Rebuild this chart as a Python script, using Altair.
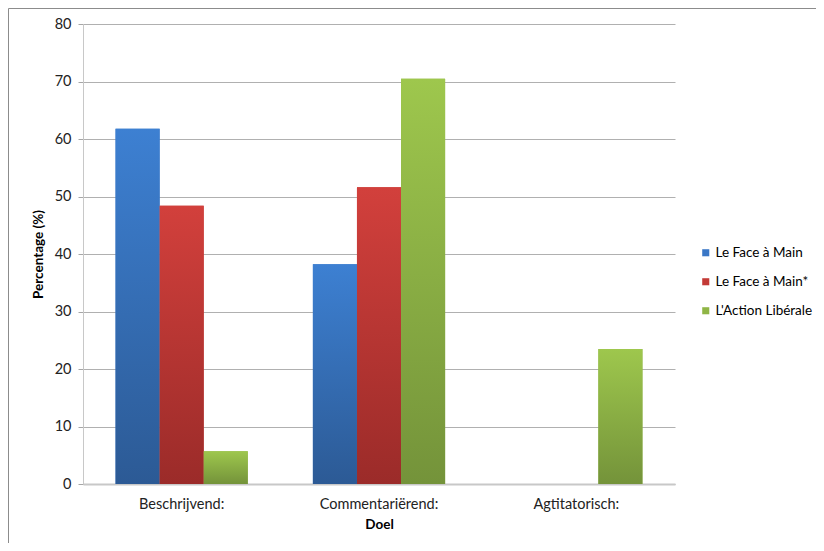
import altair as alt
import pandas as pd

categories = ["Beschrijvend:", "Commentariërend:", "Agtitatorisch:"]
series = ["Le Face à Main", "Le Face à Main*", "L'Action Libérale"]
face_a_main = [61.8, 38.2, 0.0]
face_a_main_star = [48.4, 51.6, 0.0]
action_liberale = [5.7, 70.5, 23.5]

solid = ["#3a77c6", "#c33a36", "#8fb546"]
tops = ["#3d80d2", "#d2403c", "#9ec74d"]
bottoms = ["#2c5a95", "#9b2b29", "#74933a"]

rows = []
for s, vals in zip(series, [face_a_main, face_a_main_star, action_liberale]):
    for c, v in zip(categories, vals):
        rows.append({"category": c, "series": s, "value": v})
df = pd.DataFrame(rows)

FONT = "Lato"

base = alt.Chart(df).encode(
    x=alt.X(
        "category:N",
        sort=categories,
        scale=alt.Scale(domain=categories, paddingInner=0.33, paddingOuter=0.165),
        axis=alt.Axis(
            title="Doel", labelAngle=0, labelFontSize=14.5, labelColor="#222222",
            labelFont=FONT, titleFont=FONT, titleFontSize=13.5, titleFontWeight="bold",
            titleColor="#000000", ticks=False, labelPadding=13, titlePadding=7,
            domainColor="#c8c8c8", domainWidth=2, grid=False,
        ),
    ),
    xOffset=alt.XOffset("series:N", sort=series, scale=alt.Scale(domain=series)),
    y=alt.Y(
        "value:Q",
        scale=alt.Scale(domain=[0, 80]),
        axis=alt.Axis(
            title="Percentage (%)", values=list(range(0, 81, 10)), labelFontSize=14.5,
            labelColor="#222222", labelFont=FONT, titleFont=FONT, titleFontSize=13.5,
            titleFontWeight="bold", titleColor="#000000", tickSize=5,
            tickColor="#a6a6a6", domainColor="#c8c8c8", gridColor="#b0b0b0",
            labelPadding=7, titlePadding=9,
        ),
    ),
)

legend_layer = base.mark_bar().encode(
    color=alt.Color(
        "series:N",
        sort=series,
        scale=alt.Scale(domain=series, range=solid),
        legend=alt.Legend(
            title=None, orient="none", legendX=616, legendY=222, symbolType="square",
            symbolSize=50, labelFontSize=13.5, labelFont=FONT, labelColor="#000000",
            rowPadding=14, symbolStrokeWidth=0, padding=0, labelOffset=3,
        ),
    )
)

layers = [legend_layer]
for s, t, b in zip(series, tops, bottoms):
    grad = alt.Gradient(
        gradient="linear",
        stops=[alt.GradientStop(color=t, offset=0), alt.GradientStop(color=b, offset=1)],
        x1=0, x2=0, y1=0, y2=1,
    )
    layers.append(base.transform_filter(alt.datum.series == s).mark_bar(fill=grad))

frame_df = pd.DataFrame({"a": [0]})
left_border = alt.Chart(frame_df).mark_rule(color="#8c8c8c", strokeWidth=1).encode(
    x=alt.value(-74.5), y=alt.value(-15.5), y2=alt.value(519)
)
top_border = alt.Chart(frame_df).mark_rule(color="#8c8c8c", strokeWidth=1).encode(
    x=alt.value(-74.5), x2=alt.value(733), y=alt.value(-15.5)
)

chart = alt.layer(*layers, left_border, top_border).properties(
    width=592,
    height=460,
    background="white",
    autosize=alt.AutoSizeParams(type="none"),
    padding={"left": 75, "top": 16, "right": 141, "bottom": 59},
).configure_view(strokeWidth=0, stroke="transparent")

chart.save("out.html", embed_options={"renderer": "svg", "actions": False})
